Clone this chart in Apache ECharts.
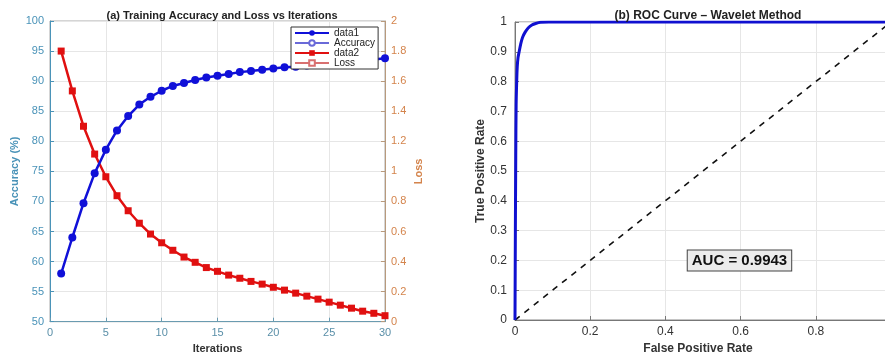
<!DOCTYPE html>
<html><head><meta charset="utf-8">
<script src="https://cdn.jsdelivr.net/npm/echarts@6/dist/echarts.min.js"></script>
<style>html,body{margin:0;padding:0;background:#fff}#c{width:885px;height:352px}</style>
</head><body><div id="c"></div>
<script>
const iterations = [1,2,3,4,5,6,7,8,9,10,11,12,13,14,15,16,17,18,19,20,21,22,23,24,25,26,27,28,29,30];
const accuracy = [58.0,64.0,69.7,74.7,78.6,81.8,84.2,86.1,87.4,88.4,89.2,89.7,90.2,90.6,90.9,91.2,91.5,91.7,91.9,92.1,92.3,92.4,92.6,92.8,92.9,93.1,93.2,93.4,93.6,93.8];
const loss = [1.80,1.535,1.30,1.115,0.964,0.838,0.738,0.655,0.583,0.525,0.475,0.43,0.395,0.36,0.335,0.31,0.289,0.268,0.25,0.229,0.21,0.19,0.17,0.15,0.13,0.11,0.09,0.07,0.056,0.04];
const rocFpr = [0,0.001,0.002,0.003,0.0045,0.006,0.008,0.011,0.015,0.02,0.027,0.035,0.045,0.055,0.068,0.09,1];
const rocTpr = [0,0.3,0.55,0.72,0.8,0.85,0.88,0.9,0.925,0.948,0.966,0.98,0.99,0.995,0.999,1,1];
const diagX = [0,1];
const diagY = [0,1];
const aucText = 'AUC = 0.9943';
const titleA = '(a) Training Accuracy and Loss vs Iterations';
const titleB = '(b) ROC Curve – Wavelet Method';

const FONT = 'Liberation Sans, Arial, sans-serif';
const accColor = '#4a93b8';
const lossColor = '#d4844c';
const blue = '#1010d8';
const red = '#e01010';

const chart = echarts.init(document.getElementById('c'), null, {renderer:'canvas'});
const gridLine = {show:true, lineStyle:{color:'#e6e6e6', width:1}};
chart.setOption({
  animation:false,
  textStyle:{fontFamily:FONT},
  title:[
    {text:titleA, left:217, top:5, textAlign:'center', textStyle:{fontSize:11, fontWeight:'bold', color:'#222', fontFamily:FONT}},
    {text:titleB, left:703, top:5, textAlign:'center', textStyle:{fontSize:12, fontWeight:'bold', color:'#222', fontFamily:FONT}}
  ],
  legend:{
    orient:'vertical', left:291, top:27, itemGap:0, itemWidth:34, itemHeight:7,
    padding:[1,3,1,3], borderColor:'#333', borderWidth:1, backgroundColor:'#fff',
    textStyle:{fontSize:10, color:'#222', fontFamily:FONT, lineHeight:10},
    data:['data1','Accuracy','data2','Loss']
  },
  grid:[
    {left:50, top:21, width:335, height:300.7, show:true, borderColor:'#aaa', borderWidth:1, backgroundColor:'transparent', outerBoundsMode:'none', containLabel:false},
    {left:515, top:22, width:376, height:298, show:true, borderColor:'#888', borderWidth:1, backgroundColor:'transparent', outerBoundsMode:'none', containLabel:false}
  ],
  xAxis:[
    {gridIndex:0, type:'value', min:0, max:30, interval:5, name:'Iterations', nameLocation:'middle', nameGap:16,
     nameTextStyle:{fontWeight:'bold', fontSize:11, color:'#333'},
     axisLine:{lineStyle:{color:'#6a9bb0'}}, axisTick:{inside:true, length:4, lineStyle:{color:'#6a9bb0'}},
     axisLabel:{color:'#5a8fa8', fontSize:11, margin:6}, splitLine:gridLine},
    {gridIndex:1, type:'value', min:0, max:1, interval:0.2, name:'False Positive Rate', nameLocation:'middle', nameGap:18,
     nameTextStyle:{fontWeight:'bold', fontSize:12, color:'#333', padding:[0,0,0,-10]},
     axisLine:{lineStyle:{color:'#777'}}, axisTick:{inside:true, length:4, lineStyle:{color:'#777'}},
     axisLabel:{color:'#333', fontSize:12, margin:6}, splitLine:gridLine}
  ],
  yAxis:[
    {gridIndex:0, type:'value', min:50, max:100, interval:5, name:'Accuracy (%)', nameLocation:'middle', nameGap:30,
     nameTextStyle:{fontWeight:'bold', fontSize:11, color:accColor},
     axisLine:{show:true, lineStyle:{color:accColor}}, axisTick:{show:true, inside:true, length:4, lineStyle:{color:accColor}},
     axisLabel:{color:accColor, fontSize:11, margin:6}, splitLine:gridLine},
    {gridIndex:0, type:'value', position:'right', min:0, max:2, interval:0.2, name:'Loss', nameLocation:'middle', nameGap:28,
     nameTextStyle:{fontWeight:'bold', fontSize:11, color:lossColor},
     axisLine:{show:true, lineStyle:{color:'#b89a7c'}}, axisTick:{show:true, inside:true, length:4, lineStyle:{color:'#b89a7c'}},
     axisLabel:{color:lossColor, fontSize:11, margin:6}, splitLine:{show:false}},
    {gridIndex:1, type:'value', min:0, max:1, interval:0.1, name:'True Positive Rate', nameLocation:'middle', nameGap:26,
     nameTextStyle:{fontWeight:'bold', fontSize:12, color:'#333'},
     axisLine:{show:true, lineStyle:{color:'#777'}}, axisTick:{show:true, inside:true, length:4, lineStyle:{color:'#777'}},
     axisLabel:{color:'#333', fontSize:12, margin:8}, splitLine:gridLine}
  ],
  series:[
    {name:'data1', type:'line', xAxisIndex:0, yAxisIndex:0, data:iterations.map((x,i)=>[x,accuracy[i]]),
     symbol:'circle', symbolSize:8, itemStyle:{color:blue}, lineStyle:{color:blue, width:2.5}, z:3},
    {name:'Accuracy', type:'line', xAxisIndex:0, yAxisIndex:0, data:[], symbol:'emptyCircle', symbolSize:6,
     itemStyle:{color:'#6a6ad8'}, lineStyle:{color:'#6a6ad8', width:1}},
    {name:'data2', type:'line', xAxisIndex:0, yAxisIndex:1, data:iterations.map((x,i)=>[x,loss[i]]),
     symbol:'rect', symbolSize:7, itemStyle:{color:red}, lineStyle:{color:red, width:2.5}, z:2},
    {name:'Loss', type:'line', xAxisIndex:0, yAxisIndex:1, data:[], symbol:'emptyRect', symbolSize:6,
     itemStyle:{color:'#d87070'}, lineStyle:{color:'#d87070', width:1}},
    {name:'ROC', type:'line', xAxisIndex:1, yAxisIndex:2, data:rocFpr.map((x,i)=>[x,rocTpr[i]]),
     symbol:'none', smooth:0.3, lineStyle:{color:'#1010d0', width:3}, z:4},
    {name:'Diag', type:'line', xAxisIndex:1, yAxisIndex:2, data:diagX.map((x,i)=>[x,diagY[i]]),
     symbol:'none', lineStyle:{color:'#111', width:1.6, type:[6,6]}, z:3,
     markPoint:{symbol:'rect', symbolSize:[1,1], itemStyle:{color:'transparent'},
       data:[{coord:[0.597,0.2]}],
       label:{show:true, formatter:aucText, position:'inside', fontSize:15, fontWeight:'bold', color:'#111',
              backgroundColor:'#ececec', borderColor:'#444', borderWidth:1, padding:[3,4,2,4], fontFamily:FONT}}}
  ]
});
</script></body></html>
